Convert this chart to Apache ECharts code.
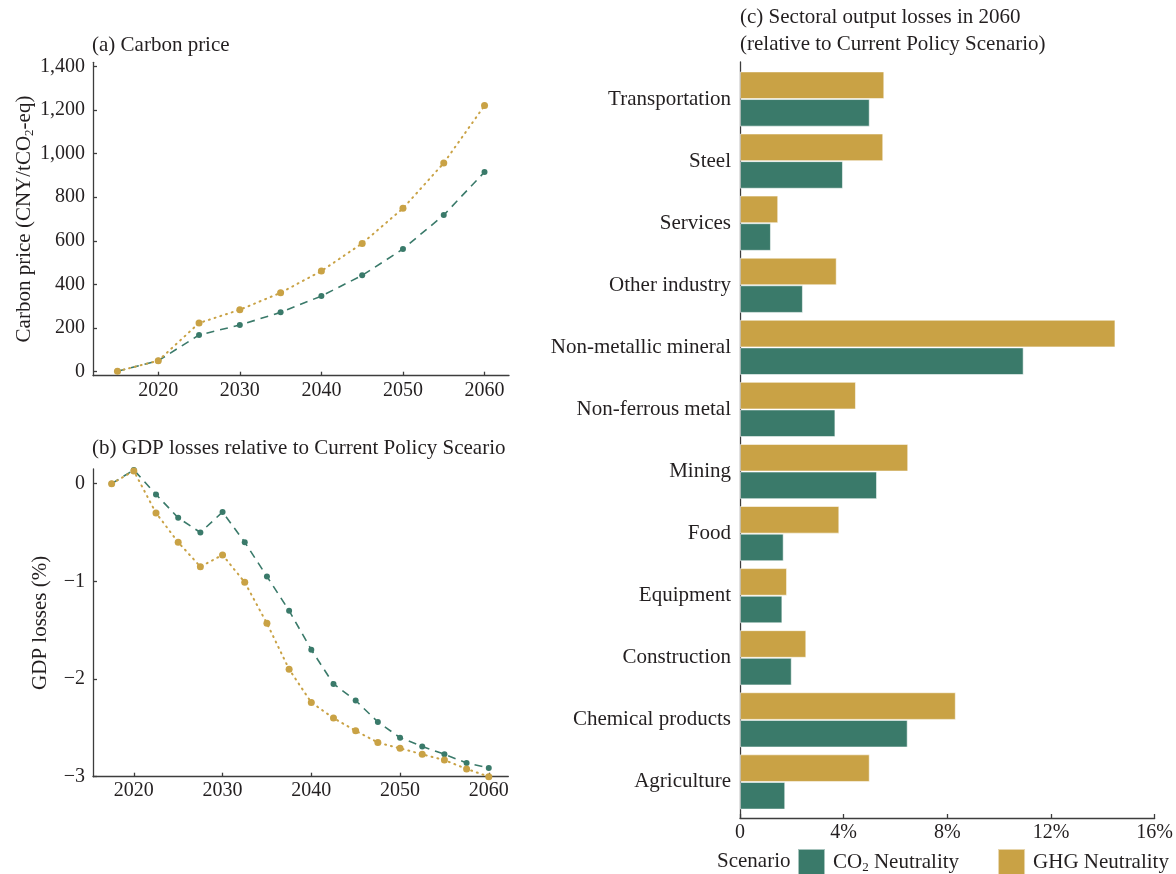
<!DOCTYPE html>
<html>
<head>
<meta charset="utf-8">
<script src="https://cdn.jsdelivr.net/npm/echarts@6/dist/echarts.min.js"></script>
<style>
  html, body { margin: 0; padding: 0; background: #ffffff; }
  #chart { width: 1176px; height: 874px; }
</style>
</head>
<body>
<div id="chart"></div>
<script>
// (a) carbon price, CNY per tCO2-eq
const priceYears = [2015, 2020, 2025, 2030, 2035, 2040, 2045, 2050, 2055, 2060];
const priceCO2 = [0, 49, 167, 213, 271, 346, 441, 562, 718, 916];
const priceGHG = [0, 49, 222, 283, 361, 461, 588, 749, 957, 1221];
const priceTicks = [0, 200, 400, 600, 800, 1000, 1200, 1400];
const yearTicks = [2020, 2030, 2040, 2050, 2060];

// (b) GDP losses relative to the Current Policy Scenario, %
const gdpYears = [2017.5, 2020, 2022.5, 2025, 2027.5, 2030, 2032.5, 2035, 2037.5,
                  2040, 2042.5, 2045, 2047.5, 2050, 2052.5, 2055, 2057.5, 2060];
const gdpCO2 = [0, 0.14, -0.11, -0.35, -0.50, -0.29, -0.60, -0.95, -1.30,
                -1.70, -2.05, -2.22, -2.44, -2.60, -2.69, -2.77, -2.86, -2.91];
const gdpGHG = [0, 0.13, -0.30, -0.60, -0.85, -0.73, -1.01, -1.43, -1.90,
                -2.24, -2.40, -2.53, -2.65, -2.71, -2.77, -2.83, -2.92, -3.00];
const gdpTicks = [0, -1, -2, -3];

// (c) sectoral output losses in 2060, %
const sectors = ['Transportation', 'Steel', 'Services', 'Other industry', 'Non-metallic mineral',
                 'Non-ferrous metal', 'Mining', 'Food', 'Equipment', 'Construction',
                 'Chemical products', 'Agriculture'];
const lossCO2 = [4.99, 3.96, 1.19, 2.42, 10.91, 3.67, 5.27, 1.68, 1.63, 1.99, 6.45, 1.74];
const lossGHG = [5.55, 5.51, 1.47, 3.72, 14.44, 4.46, 6.47, 3.82, 1.81, 2.55, 8.30, 4.99];
const lossTicks = [0, 4, 8, 12, 16];

const GREEN = '#3a7a6a';
const GOLD = '#c9a245';
const INK = '#231f20';
const AXIS = '#3d3d3d';
const FONT = '"Liberation Serif", "Times New Roman", serif';

const pairs = (xs, ys) => xs.map((x, i) => [x, ys[i]]);
const minus = v => (v < 0 ? '\u2212' + Math.abs(v) : String(v));
const plain = v => String(v);

const axisLineStyle = { show: true, onZero: false, lineStyle: { color: AXIS, width: 1.3 } };
const tickStyle = (values) => ({
  show: true, inside: true, length: 4, customValues: values,
  lineStyle: { color: AXIS, width: 1.3 }
});
const labelStyle = (values, margin, formatter) => ({
  show: true, customValues: values, margin: margin, formatter: formatter,
  fontFamily: FONT, fontSize: 20, color: INK
});

const titleText = (text, left, top, lineHeight) => ({
  text: text, left: left, top: top, padding: 0,
  textStyle: { fontFamily: FONT, fontSize: 21, fontWeight: 'normal', color: INK, lineHeight: lineHeight }
});

const chart = echarts.init(document.getElementById('chart'), null, { renderer: 'canvas' });

chart.setOption({
  backgroundColor: '#ffffff',
  animation: false,
  title: [
    titleText('(a) Carbon price', 92, 33, 24),
    titleText('(b) GDP losses relative to Current Policy Sceario', 92, 436, 24),
    titleText('(c) Sectoral output losses in 2060\n(relative to Current Policy Scenario)', 740, 4, 27),
    titleText('Scenario', 717, 849, 24)
  ],
  legend: {
    data: ['CO2 Neutrality', 'GHG Neutrality'],
    left: 797, top: 848, padding: 0,
    icon: 'rect', itemWidth: 27, itemHeight: 27, itemGap: 38,
    selectedMode: false,
    formatter: name => name === 'CO2 Neutrality'
      ? '{a|CO}{b|2}{a| Neutrality}'
      : '{a|' + name + '}',
    textStyle: {
      padding: [0, 0, 0, 3],
      rich: {
        a: { fontFamily: FONT, fontSize: 21, color: INK, lineHeight: 24 },
        b: { fontFamily: FONT, fontSize: 13, color: INK, lineHeight: 14, verticalAlign: 'bottom' }
      }
    }
  },
  grid: [
    { left: 93, top: 62.3, width: 416, height: 313.4 },
    { left: 93, top: 469, width: 415.3, height: 307.7 },
    { left: 740, top: 68, width: 416, height: 745 },
    { left: 740, top: 62, width: 416, height: 756 }
  ],
  xAxis: [
    {
      gridIndex: 0, type: 'value', min: 2012, max: 2063,
      axisLine: axisLineStyle, axisTick: tickStyle(yearTicks),
      axisLabel: labelStyle(yearTicks, 5, plain), splitLine: { show: false }
    },
    {
      gridIndex: 1, type: 'value', min: 2015.4, max: 2062.2,
      axisLine: axisLineStyle, axisTick: tickStyle(yearTicks),
      axisLabel: labelStyle(yearTicks, 4, plain), splitLine: { show: false }
    },
    {
      gridIndex: 2, type: 'value', min: 0, max: 16, show: false
    },
    {
      gridIndex: 3, type: 'value', min: 0, max: 16,
      axisLine: axisLineStyle, axisTick: tickStyle(lossTicks),
      axisLabel: labelStyle(lossTicks, 5, v => (v === 0 ? '0' : v + '%')),
      splitLine: { show: false }
    }
  ],
  yAxis: [
    {
      gridIndex: 0, type: 'value', min: -20, max: 1420,
      axisLine: axisLineStyle, axisTick: tickStyle(priceTicks),
      axisLabel: labelStyle(priceTicks, 8, v => v.toLocaleString('en-US')),
      splitLine: { show: false },
      name: '{a|Carbon price (CNY/tCO}{b|2}{a|-eq)}',
      nameLocation: 'middle', nameGap: 56,
      nameTextStyle: {
        rich: {
          a: { fontFamily: FONT, fontSize: 21, color: INK, lineHeight: 24 },
          b: { fontFamily: FONT, fontSize: 13, color: INK, lineHeight: 14, verticalAlign: 'bottom' }
        }
      }
    },
    {
      gridIndex: 1, type: 'value', min: -3, max: 0.15,
      axisLine: axisLineStyle, axisTick: tickStyle(gdpTicks),
      axisLabel: labelStyle(gdpTicks, 8, minus),
      splitLine: { show: false },
      name: 'GDP losses (%)', nameLocation: 'middle', nameGap: 42,
      nameTextStyle: { fontFamily: FONT, fontSize: 21, color: INK }
    },
    {
      gridIndex: 2, type: 'category', data: sectors, inverse: true,
      axisLine: { show: false }, axisTick: { show: false },
      axisLabel: { margin: 9, fontFamily: FONT, fontSize: 21, color: INK }
    },
    {
      gridIndex: 3, type: 'value', min: 0, max: 1,
      axisLine: axisLineStyle, axisTick: { show: false },
      axisLabel: { show: false }, splitLine: { show: false }
    }
  ],
  series: [
    {
      name: 'Carbon price, CO2 Neutrality', type: 'line', xAxisIndex: 0, yAxisIndex: 0,
      data: pairs(priceYears, priceCO2),
      symbol: 'circle', symbolSize: 6,
      itemStyle: { color: GREEN },
      lineStyle: { color: GREEN, width: 1.6, type: [8, 6] }
    },
    {
      name: 'Carbon price, GHG Neutrality', type: 'line', xAxisIndex: 0, yAxisIndex: 0,
      data: pairs(priceYears, priceGHG),
      symbol: 'circle', symbolSize: 7,
      itemStyle: { color: GOLD },
      lineStyle: { color: GOLD, width: 2, type: [1, 5], cap: 'round' }
    },
    {
      name: 'GDP losses, CO2 Neutrality', type: 'line', xAxisIndex: 1, yAxisIndex: 1,
      data: pairs(gdpYears, gdpCO2),
      symbol: 'circle', symbolSize: 6,
      itemStyle: { color: GREEN },
      lineStyle: { color: GREEN, width: 1.6, type: [8, 6] }
    },
    {
      name: 'GDP losses, GHG Neutrality', type: 'line', xAxisIndex: 1, yAxisIndex: 1,
      data: pairs(gdpYears, gdpGHG),
      symbol: 'circle', symbolSize: 7,
      itemStyle: { color: GOLD },
      lineStyle: { color: GOLD, width: 2, type: [1, 5], cap: 'round' }
    },
    {
      name: 'GHG Neutrality', type: 'bar', xAxisIndex: 2, yAxisIndex: 2,
      data: lossGHG, barGap: '0%', barCategoryGap: '11%',
      itemStyle: { color: GOLD, borderColor: 'rgba(255,255,255,0.55)', borderWidth: 1 }
    },
    {
      name: 'CO2 Neutrality', type: 'bar', xAxisIndex: 2, yAxisIndex: 2,
      data: lossCO2, barGap: '0%', barCategoryGap: '11%',
      itemStyle: { color: GREEN, borderColor: 'rgba(255,255,255,0.55)', borderWidth: 1 }
    }
  ]
});
</script>
</body>
</html>
